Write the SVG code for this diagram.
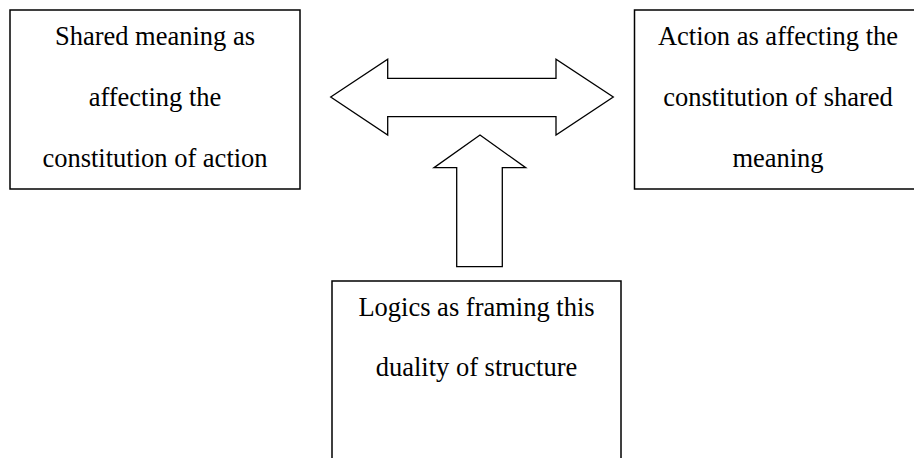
<svg xmlns="http://www.w3.org/2000/svg" width="914" height="458" viewBox="0 0 914 458">
<style>
.box{fill:#fff;stroke:#000;stroke-width:1.5}
.arrow{fill:#fff;stroke:#000;stroke-width:1.3;stroke-linejoin:miter}
text{font-family:"Liberation Serif","Times New Roman",serif;font-size:26.5px;fill:#000;text-anchor:middle}
</style>
<rect width="914" height="458" fill="#fff"/>
<g id="node-shared-meaning">
<rect class="box" x="10" y="10" width="290" height="179"/>
<text x="155" y="45">Shared meaning as</text>
<text x="155" y="106">affecting the</text>
<text x="155" y="167">constitution of action</text>
</g>
<g id="node-action">
<rect class="box" x="634.5" y="10" width="290" height="179"/>
<text x="778" y="45">Action as affecting the</text>
<text x="778" y="106">constitution of shared</text>
<text x="778" y="167">meaning</text>
</g>
<g id="node-logics">
<rect class="box" x="332" y="281" width="289" height="190"/>
<text x="476.5" y="316">Logics as framing this</text>
<text x="476.5" y="376">duality of structure</text>
</g>
<g id="connectors">
<polygon class="arrow" points="330.7,97 387.7,59.3 387.7,78.3 556,78.3 556,59.3 613.3,97 556,135 556,116.7 387.7,116.7 387.7,135"/>
<polygon class="arrow" points="480,135 525.7,167.7 502.3,167.7 502.3,266.7 456.7,266.7 456.7,167.7 434,167.7"/>
</g>
</svg>
